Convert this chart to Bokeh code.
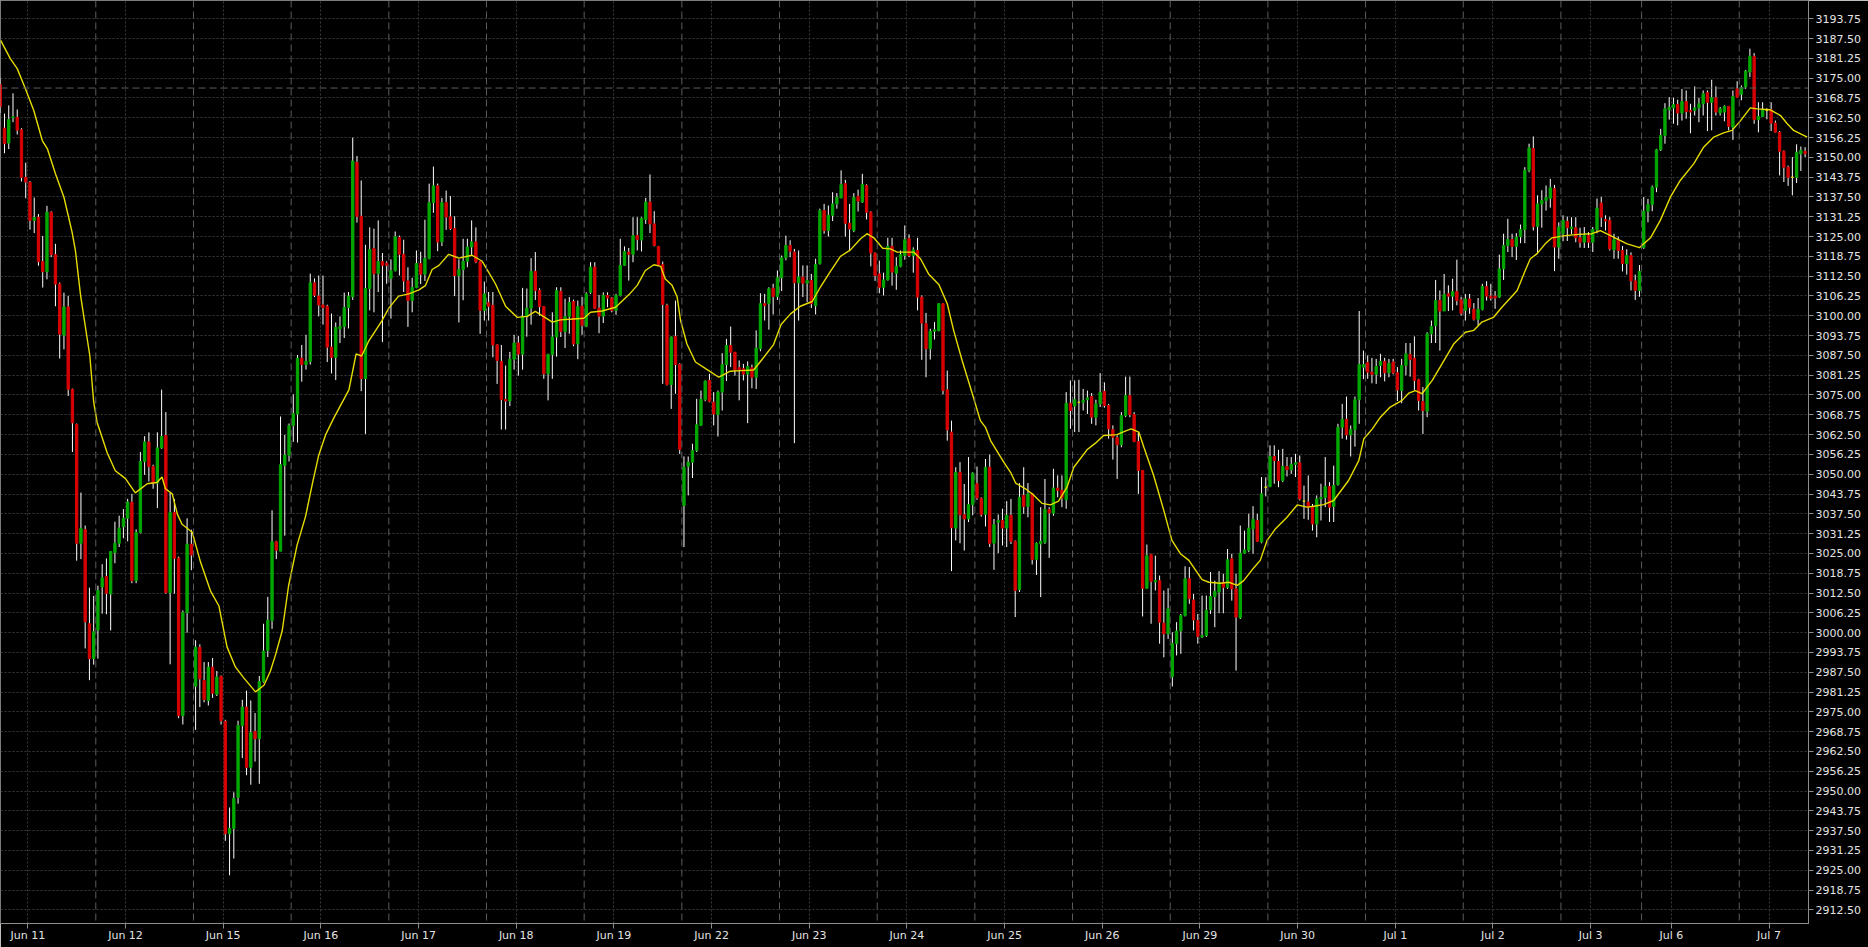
from bokeh.plotting import figure
from bokeh.models import Range1d, FixedTicker, Span, ColumnDataSource, NumeralTickFormatter
from bokeh.embed import file_html
from bokeh.resources import INLINE

# ---------------- data (hourly bars) ----------------
day_labels = ["Jun 11", "Jun 12", "Jun 15", "Jun 16", "Jun 17", "Jun 18", "Jun 19",
              "Jun 22", "Jun 23", "Jun 24", "Jun 25", "Jun 26", "Jun 29", "Jun 30",
              "Jul 1", "Jul 2", "Jul 3", "Jul 6", "Jul 7"]
bars_per_day = [23] * 16 + [19, 23, 16]

opens = [
3173.0,3159.2,3154.5,3162.5,3162.6,3158.7,3143.7,3142.1,3130.1,3131.1,
3117.1,3113.9,3132.7,3119.3,3110.0,3093.9,3102.8,3076.8,3065.7,3028.2,
3032.5,3002.8,2991.8,3000.8,3014.4,3017.7,3012.2,3025.3,3028.2,3033.4,
3036.1,3041.2,3016.4,3031.6,3054.0,3060.2,3052.4,3047.2,3058.3,3062.2,
3012.6,3037.9,3023.5,2973.8,3006.3,3027.9,2983.1,2995.4,2984.9,2978.6,
2989.1,2980.5,2986.2,2972.0,2936.5,2938.2,2948.0,2970.7,2976.5,2957.5,
2968.8,2966.5,2984.6,2994.4,3003.8,3028.7,3025.7,3052.8,3056.0,3065.4,
3069.0,3086.6,3084.6,3085.6,3110.4,3106.2,3103.4,3103.0,3090.1,3086.9,
3095.9,3096.6,3102.6,3106.0,3148.4,3131.4,3080.2,3108.6,3121.2,3113.3,
3117.1,3116.6,3111.8,3114.2,3124.7,3119.4,3111.0,3104.8,3108.9,3116.5,
3113.1,3118.1,3135.7,3141.0,3123.3,3135.7,3131.2,3127.5,3112.7,3114.6,
3117.2,3121.7,3123.3,3117.0,3101.7,3104.1,3103.3,3090.8,3085.6,3073.6,
3073.1,3086.3,3091.4,3087.9,3099.8,3102.4,3114.0,3108.0,3102.9,3081.7,
3087.8,3093.3,3107.7,3095.0,3099.8,3104.5,3091.1,3103.0,3096.7,3107.4,
3115.4,3102.4,3099.9,3106.4,3105.6,3101.7,3106.4,3115.9,3120.1,3119.4,
3125.3,3123.9,3130.4,3135.9,3129.0,3121.9,3116.1,3103.3,3078.3,3093.5,
3084.6,3040.1,3052.5,3053.8,3057.5,3065.4,3073.6,3079.6,3072.7,3068.8,
3075.9,3084.6,3090.6,3088.5,3083.6,3083.3,3081.6,3083.6,3080.6,3089.6,
3103.8,3103.8,3108.7,3106.1,3112.0,3118.3,3122.2,3120.1,3110.4,3112.2,
3110.3,3111.1,3103.2,3116.4,3133.2,3126.9,3131.7,3135.3,3137.2,3141.7,
3129.2,3126.9,3137.7,3135.9,3141.1,3132.7,3119.8,3113.2,3109.0,3111.3,
3121.9,3113.4,3115.6,3119.0,3124.3,3119.0,3120.6,3105.9,3097.5,3089.6,
3095.1,3095.3,3103.8,3076.6,3063.3,3033.0,3050.6,3037.2,3035.9,3040.4,
3047.0,3042.4,3037.3,3052.2,3028.2,3034.8,3035.4,3033.0,3037.0,3028.8,
3013.6,3043.3,3039.8,3043.8,3023.1,3028.0,3028.5,3038.8,3037.7,3045.6,
3044.9,3041.9,3072.4,3071.5,3072.7,3072.7,3073.5,3074.5,3068.0,3072.2,
3076.1,3071.7,3064.1,3061.5,3059.3,3068.5,3074.8,3068.8,3060.3,3051.2,
3014.0,3024.6,3016.0,3016.4,3003.0,2999.6,2986.1,2996.5,3000.5,3005.4,
3017.0,3010.3,3003.8,2998.6,2999.1,3007.2,3011.4,3012.8,3015.9,3014.3,
3023.3,3013.8,3004.7,3025.1,3026.0,3032.8,3035.4,3028.6,3045.9,3046.1,
3055.6,3054.0,3048.0,3052.4,3051.4,3053.1,3053.6,3041.5,3041.2,3039.6,
3034.3,3042.2,3042.7,3046.1,3039.8,3046.7,3064.8,3067.3,3062.4,3064.1,
3073.5,3083.8,3085.2,3082.2,3081.5,3084.3,3085.6,3082.0,3085.4,3082.0,
3076.4,3084.3,3087.8,3086.6,3079.8,3072.9,3069.9,3094.3,3096.9,3104.8,
3101.5,3106.9,3106.2,3107.6,3105.0,3101.7,3105.3,3102.1,3098.9,3102.0,
3109.2,3106.2,3106.2,3105.9,3114.8,3122.2,3124.1,3121.9,3125.0,3127.2,
3145.9,3152.8,3128.2,3135.3,3136.4,3137.1,3140.1,3121.7,3125.9,3129.8,
3127.5,3127.8,3124.6,3123.2,3125.3,3123.2,3127.2,3135.6,3130.4,3130.1,
3120.8,3124.0,3120.6,3116.5,3119.0,3111.0,3108.0,3121.5,3133.0,3135.1,
3140.6,3152.4,3156.9,3165.0,3165.6,3166.7,3164.0,3167.6,3164.8,3164.8,
3165.6,3166.9,3170.4,3167.4,3168.8,3164.0,3164.3,3166.1,3159.5,3171.6,
3169.9,3172.2,3176.9,3181.9,3161.9,3162.9,3164.8,3165.0,3160.8,3157.9,
3151.9,3146.9,3143.7,3143.7,3151.1,3151.9]

highs = [
3175.0,3163.8,3166.4,3170.2,3165.1,3159.2,3148.3,3142.5,3137.3,3132.1,
3125.2,3134.7,3133.0,3122.7,3110.5,3107.3,3106.3,3077.0,3066.0,3044.2,
3033.8,3014.2,3011.6,3014.8,3021.6,3023.4,3025.6,3035.0,3036.9,3039.0,
3042.2,3043.8,3032.6,3057.0,3062.0,3063.2,3053.0,3063.2,3076.7,3069.6,
3044.1,3042.2,3024.0,3007.0,3036.1,3032.5,2997.6,2996.3,2990.7,2990.7,
2992.0,2987.9,2986.5,2972.5,2944.8,2949.6,2972.2,2978.8,2981.7,2978.6,
2974.6,2986.3,3002.8,3011.3,3038.6,3029.0,3068.2,3062.4,3066.0,3075.2,
3087.6,3090.8,3094.0,3113.3,3111.8,3112.7,3112.7,3103.5,3100.7,3097.9,
3099.8,3107.3,3107.5,3156.2,3150.4,3142.7,3122.4,3127.9,3127.5,3130.1,
3119.8,3117.2,3117.8,3126.6,3125.3,3124.0,3115.3,3112.0,3120.6,3120.2,
3130.3,3141.7,3147.1,3141.7,3137.2,3139.5,3137.8,3131.4,3117.8,3124.3,
3124.3,3130.1,3127.9,3117.2,3110.8,3107.5,3107.5,3091.0,3090.8,3084.3,
3088.6,3094.0,3093.6,3108.8,3108.6,3118.2,3120.1,3108.7,3103.0,3088.0,
3101.1,3109.0,3109.0,3105.4,3105.9,3105.1,3104.8,3106.0,3107.4,3116.9,
3116.9,3106.6,3107.4,3107.4,3105.9,3106.9,3124.3,3121.9,3121.4,3131.1,
3131.1,3131.1,3137.2,3144.6,3133.0,3122.0,3117.1,3103.8,3093.5,3104.8,
3085.0,3055.6,3055.6,3059.6,3073.8,3076.4,3079.6,3081.7,3075.9,3076.4,
3088.2,3092.7,3096.6,3088.5,3085.9,3084.8,3085.6,3084.6,3095.4,3107.1,
3106.9,3109.0,3110.1,3114.3,3119.0,3125.3,3123.8,3121.1,3120.6,3115.9,
3115.9,3113.2,3118.0,3133.8,3135.3,3134.8,3139.0,3138.7,3145.9,3142.9,
3135.3,3138.7,3139.8,3144.8,3141.5,3133.0,3120.0,3117.4,3113.6,3124.6,
3124.6,3118.5,3120.6,3128.5,3125.7,3121.6,3124.6,3106.4,3100.9,3095.9,
3098.0,3104.0,3104.0,3082.7,3066.9,3052.2,3053.8,3046.9,3055.4,3050.6,
3052.4,3042.7,3054.8,3056.2,3035.9,3037.3,3039.1,3041.5,3042.2,3029.1,
3047.2,3052.2,3047.2,3044.0,3028.5,3039.6,3048.5,3039.6,3051.7,3049.6,
3049.6,3075.9,3079.6,3079.6,3079.8,3076.9,3076.4,3075.6,3073.5,3081.9,
3079.0,3072.2,3065.4,3062.2,3069.6,3080.8,3080.8,3069.6,3063.3,3051.2,
3027.8,3024.9,3024.3,3018.0,3013.3,3014.0,3000.1,3003.3,3005.9,3020.9,
3020.7,3012.2,3005.9,3011.7,3011.7,3019.1,3016.4,3019.4,3018.6,3026.4,
3024.9,3018.6,3033.8,3032.2,3037.5,3039.9,3037.5,3049.1,3049.0,3059.1,
3059.1,3057.7,3058.0,3055.4,3055.4,3056.4,3055.9,3046.4,3049.6,3040.6,
3043.3,3047.0,3055.4,3047.5,3052.7,3065.9,3072.2,3074.5,3065.4,3074.5,
3101.5,3089.0,3087.5,3086.7,3086.4,3088.0,3086.7,3086.4,3086.4,3083.8,
3086.4,3091.4,3091.4,3093.5,3080.1,3077.5,3094.8,3098.5,3111.3,3108.0,
3113.2,3109.6,3111.7,3117.7,3106.0,3106.9,3106.9,3104.0,3105.6,3110.1,
3110.9,3110.1,3107.8,3119.3,3125.9,3130.6,3125.9,3126.1,3128.8,3146.9,
3154.3,3156.6,3138.0,3139.6,3141.1,3143.2,3141.3,3129.5,3131.7,3131.3,
3131.1,3131.1,3127.8,3128.0,3126.4,3128.0,3137.0,3137.5,3131.7,3131.1,
3125.9,3125.0,3122.0,3121.0,3120.0,3113.0,3116.0,3137.5,3136.9,3141.1,
3152.7,3159.0,3167.1,3169.0,3168.8,3168.2,3171.6,3171.1,3166.9,3172.4,
3168.8,3171.1,3171.1,3174.5,3172.4,3165.9,3166.4,3166.1,3171.1,3174.0,
3172.7,3177.6,3184.3,3182.9,3167.4,3167.4,3165.5,3167.4,3161.6,3158.3,
3152.2,3147.4,3150.1,3154.1,3153.4,3153.2]

lows = [
3164.0,3151.3,3152.6,3161.1,3157.2,3142.4,3137.1,3127.2,3126.1,3115.8,
3108.9,3111.5,3118.5,3103.0,3086.5,3089.4,3074.7,3057.0,3022.7,3023.2,
2995.0,2985.0,2989.9,2991.8,3006.0,3005.8,3000.7,3021.9,3027.0,3029.8,
3028.8,3015.6,3015.6,3031.3,3049.8,3047.7,3045.4,3039.3,3058.0,3012.3,
2990.0,3012.3,2973.0,2971.0,3000.0,3019.7,2969.3,2976.5,2978.0,2977.0,
2979.4,2980.0,2971.0,2934.3,2923.4,2928.7,2946.0,2960.4,2955.0,2952.0,
2959.3,2952.3,2984.2,2992.3,3001.2,3023.2,3025.7,3030.6,3054.0,3060.2,
3060.0,3079.2,3083.0,3084.6,3105.9,3099.8,3097.2,3085.4,3081.8,3079.7,
3091.4,3093.0,3096.0,3105.0,3129.4,3076.2,3062.7,3101.7,3101.1,3107.5,
3091.7,3110.1,3099.1,3114.0,3112.7,3107.5,3096.5,3101.1,3108.7,3110.0,
3111.0,3117.8,3132.5,3120.4,3122.0,3127.1,3127.1,3106.2,3097.9,3104.9,
3115.3,3119.0,3116.6,3094.3,3098.5,3098.5,3086.9,3078.5,3064.1,3064.1,
3071.5,3083.0,3081.1,3083.0,3093.4,3097.2,3105.0,3100.0,3080.1,3073.3,
3080.1,3087.1,3093.3,3089.8,3094.3,3090.4,3086.3,3094.0,3096.4,3106.9,
3102.2,3094.5,3097.7,3102.7,3101.1,3100.3,3106.1,3115.7,3111.1,3116.9,
3120.6,3120.3,3129.0,3126.1,3121.9,3116.0,3078.5,3078.0,3070.6,3075.4,
3056.4,3027.0,3043.3,3048.8,3057.0,3065.4,3073.0,3072.7,3065.4,3061.9,
3070.1,3079.4,3083.8,3081.1,3073.3,3079.6,3066.1,3077.1,3076.9,3088.8,
3098.5,3095.6,3100.4,3105.0,3107.8,3117.5,3118.5,3059.8,3098.5,3105.9,
3104.3,3102.4,3100.4,3116.2,3125.9,3125.0,3129.9,3133.8,3137.1,3125.0,
3120.4,3126.4,3132.9,3135.6,3130.4,3115.6,3111.0,3107.1,3106.4,3111.1,
3109.5,3108.2,3115.3,3117.7,3118.5,3113.6,3101.7,3086.1,3080.6,3086.2,
3092.5,3095.1,3075.2,3060.6,3019.4,3029.1,3028.2,3025.9,3034.9,3037.0,
3041.9,3036.6,3033.5,3027.0,3019.8,3025.1,3027.5,3027.0,3028.0,3004.9,
3012.8,3037.5,3036.4,3021.5,3018.2,3011.2,3028.0,3023.6,3036.9,3042.7,
3039.6,3039.1,3064.3,3063.3,3063.3,3070.1,3069.0,3065.9,3065.4,3071.2,
3071.0,3061.2,3054.6,3048.5,3058.5,3068.0,3068.0,3060.1,3043.8,3005.1,
3013.8,3002.8,3013.3,2996.5,2992.2,2998.0,2983.0,2992.8,2993.3,3005.1,
3009.1,3000.7,2996.5,2998.3,2998.6,3005.9,3001.7,3006.1,3006.1,3013.8,
3010.1,2988.0,3004.3,3024.9,3025.4,3024.9,3028.6,3028.2,3043.0,3045.9,
3047.0,3045.9,3047.5,3049.3,3050.1,3049.1,3041.7,3035.9,3035.6,3032.2,
3030.1,3035.4,3039.6,3034.9,3034.9,3046.4,3061.2,3060.9,3055.6,3058.7,
3065.9,3080.0,3080.1,3078.7,3078.5,3080.6,3079.3,3080.6,3081.5,3073.1,
3072.4,3081.2,3080.8,3076.6,3070.1,3062.7,3068.0,3091.4,3091.4,3089.0,
3101.5,3101.5,3101.7,3103.3,3100.1,3098.5,3100.6,3098.5,3096.9,3101.7,
3104.8,3104.8,3102.2,3105.6,3111.3,3120.1,3118.5,3117.6,3122.9,3122.9,
3145.3,3126.9,3119.6,3127.8,3133.2,3134.1,3114.1,3118.0,3123.5,3123.6,
3125.7,3123.2,3121.5,3121.4,3121.4,3120.1,3126.0,3128.0,3126.9,3120.6,
3118.0,3118.0,3114.0,3113.0,3108.0,3105.0,3106.0,3121.1,3129.5,3133.0,
3139.0,3152.0,3154.3,3161.9,3160.6,3160.1,3161.6,3162.2,3157.6,3163.2,
3161.1,3163.2,3158.3,3158.5,3163.2,3163.2,3161.4,3158.5,3155.5,3168.8,
3168.0,3171.6,3175.3,3160.6,3157.9,3162.7,3162.0,3158.3,3157.9,3144.3,
3142.2,3141.0,3138.0,3141.9,3145.7,3150.1]

closes = [
3166.0,3154.3,3161.9,3162.8,3158.6,3143.7,3142.2,3130.1,3131.0,3117.1,
3113.9,3132.7,3119.3,3110.0,3094.2,3102.8,3076.8,3066.2,3028.2,3032.9,
3003.4,2991.8,3000.3,3013.3,3017.3,3012.4,3025.6,3028.2,3033.0,3036.1,
3041.2,3016.4,3031.6,3054.0,3060.2,3052.4,3047.2,3058.3,3061.9,3012.6,
3037.9,3023.5,2973.8,3006.3,3027.9,3024.5,2995.4,2985.4,2978.9,2989.1,
2980.9,2986.0,2972.2,2936.5,2938.2,2947.7,2970.7,2976.5,2957.5,2968.4,
2966.5,2984.6,2994.2,3003.9,3028.7,3026.0,3053.0,3056.0,3065.3,3069.1,
3086.6,3084.6,3085.6,3110.4,3106.5,3103.4,3102.6,3090.1,3086.9,3096.3,
3096.6,3102.6,3106.2,3148.8,3131.4,3080.2,3108.6,3120.9,3113.3,3117.1,
3115.9,3115.9,3114.2,3124.9,3119.4,3111.0,3104.8,3108.9,3116.5,3113.1,
3118.1,3135.7,3141.0,3123.3,3135.7,3131.2,3127.5,3112.7,3114.6,3117.2,
3121.7,3123.3,3117.0,3101.7,3106.9,3103.0,3090.8,3085.9,3073.6,3073.1,
3086.3,3091.4,3087.9,3099.8,3102.4,3114.0,3108.0,3102.9,3081.7,3087.8,
3093.3,3108.0,3095.0,3099.8,3104.2,3091.1,3102.9,3097.0,3106.9,3115.4,
3102.4,3099.9,3106.4,3105.6,3101.7,3106.4,3115.9,3120.3,3119.4,3125.3,
3124.1,3130.8,3135.9,3129.0,3122.2,3116.1,3103.6,3078.3,3093.3,3084.6,
3057.8,3052.2,3053.8,3057.5,3065.6,3073.6,3079.4,3073.0,3069.0,3075.9,
3084.6,3090.6,3088.5,3082.9,3083.0,3081.6,3084.0,3080.6,3089.8,3103.8,
3103.2,3108.5,3106.1,3112.0,3118.3,3122.2,3120.4,3110.4,3112.2,3110.3,
3111.1,3103.8,3116.2,3133.2,3126.9,3131.7,3135.3,3137.4,3141.4,3129.2,
3127.4,3137.4,3136.2,3141.4,3132.7,3119.8,3112.7,3109.0,3111.3,3121.9,
3113.8,3115.6,3119.3,3124.0,3119.0,3120.8,3105.9,3097.7,3089.6,3095.1,
3095.6,3103.8,3076.4,3064.0,3033.1,3050.6,3037.2,3035.9,3040.4,3050.3,
3042.5,3037.3,3052.2,3028.2,3034.1,3035.4,3033.0,3037.0,3028.8,3013.3,
3042.7,3039.8,3043.8,3023.1,3028.2,3028.8,3038.9,3037.8,3045.6,3044.9,
3042.5,3072.4,3070.1,3073.5,3072.7,3073.3,3074.1,3068.0,3072.2,3075.8,
3071.7,3064.3,3061.7,3059.3,3068.5,3074.8,3068.8,3060.3,3051.2,3014.0,
3024.3,3016.2,3016.4,3003.3,2999.6,3007.5,2996.5,3000.5,3005.4,3017.0,
3010.7,3004.0,2998.8,2999.1,3007.0,3011.4,3013.0,3015.9,3014.3,3023.0,
3013.8,3004.9,3025.1,3026.1,3033.0,3035.7,3028.8,3043.8,3045.9,3055.6,
3054.3,3048.0,3052.4,3051.4,3053.1,3053.6,3042.2,3041.5,3039.6,3034.3,
3042.2,3042.7,3046.1,3039.6,3046.4,3064.8,3067.3,3062.4,3064.1,3073.5,
3084.6,3084.6,3082.2,3081.5,3084.0,3085.6,3082.0,3085.0,3082.0,3076.6,
3084.3,3088.0,3086.2,3079.6,3073.3,3070.1,3094.3,3096.6,3104.8,3101.5,
3106.7,3106.2,3107.6,3104.8,3100.8,3105.3,3102.7,3098.9,3102.0,3109.2,
3106.2,3105.6,3105.6,3114.8,3122.2,3124.1,3121.9,3124.8,3127.2,3145.9,
3153.0,3128.2,3135.3,3136.4,3137.3,3140.4,3121.7,3128.0,3130.1,3127.8,
3128.0,3124.6,3123.2,3125.3,3123.2,3127.2,3134.0,3131.1,3129.9,3121.1,
3124.0,3120.6,3116.5,3119.0,3111.0,3108.0,3114.0,3133.0,3135.1,3140.6,
3152.4,3156.9,3165.3,3165.8,3166.7,3164.0,3167.6,3164.5,3164.3,3165.6,
3166.9,3170.1,3167.4,3168.8,3164.3,3165.3,3166.1,3159.8,3169.2,3169.0,
3172.0,3177.2,3181.9,3161.9,3162.9,3165.0,3164.8,3160.8,3157.9,3151.9,
3146.9,3143.7,3143.7,3151.6,3152.2,3151.1]

# moving average line (bar position, value)
ma_x = [0.1,2.4,4.0,5.9,7.9,9.9,11.1,13.0,15.0,16.9,
17.7,18.9,21.1,22.0,22.8,25.2,27.1,29.5,31.8,34.6,
36.9,38.1,38.9,40.5,41.7,42.8,45.2,47.2,49.5,51.5,
53.4,55.4,57.3,60.1,62.1,63.6,64.8,66.4,67.9,69.9,
71.9,73.5,75.0,76.6,78.5,82.1,83.8,85.1,86.8,89.9,
91.5,93.8,96.2,98.6,100.1,101.7,103.3,105.6,108.0,111.1,
113.5,116.6,119.0,121.7,124.1,126.0,130.0,131.9,135.0,137.4,
139.0,141.7,144.9,148.0,150.0,151.9,153.9,155.5,156.6,158.2,
159.4,160.2,161.7,163.7,166.1,169.2,171.9,174.3,177.4,179.8,
182.1,183.9,186.1,188.4,191.2,193.1,195.1,197.8,200.2,202.6,
204.1,205.7,207.8,209.6,211.2,215.1,216.7,218.6,221.0,223.0,
224.5,226.5,228.9,230.8,232.0,233.2,236.3,237.9,239.1,241.4,
243.0,245.3,247.3,249.2,251.2,252.8,255.9,257.9,259.8,263.0,
264.9,266.3,268.1,269.3,271.6,274.0,275.9,277.9,279.9,283.0,
284.6,287.3,289.3,291.3,292.8,295.2,296.7,298.3,300.3,303.0,
305.4,307.7,309.3,311.6,314.0,317.5,319.9,321.1,323.1,325.0,
327.3,330.1,331.7,333.2,334.8,337.2,339.5,342.3,345.0,347.0,
348.9,351.7,353.6,357.2,359.1,360.3,361.9,363.8,365.4,368.5,
371.7,374.8,376.8,380.7,383.1,386.0,388.6,390.9,393.3,395.6,
398.8,401.1,403.5,405.8,407.8,409.8,412.1,413.7,416.8,419.2,
420.8,422.3,425.5]
ma_y = [3186.9,3181.1,3178.0,3171.7,3164.8,3155.3,3152.7,3144.8,3137.4,3126.5,
3120.6,3106.6,3087.3,3072.8,3066.4,3056.7,3051.1,3048.6,3044.1,3047.0,
3047.4,3049.1,3045.4,3043.8,3037.4,3034.2,3031.7,3022.1,3013.2,3008.4,
2995.5,2989.1,2985.8,2981.3,2983.4,2987.8,2992.9,3000.6,3014.8,3027.6,
3036.7,3047.0,3056.0,3062.4,3067.6,3076.6,3088.0,3087.3,3092.1,3098.5,
3102.4,3106.2,3106.9,3108.2,3109.5,3114.6,3115.9,3119.4,3118.2,3119.1,
3117.2,3110.1,3103.0,3099.5,3099.8,3101.4,3098.0,3098.7,3099.0,3099.2,
3101.1,3101.5,3102.7,3106.6,3109.6,3114.3,3116.1,3115.6,3111.6,3109.6,
3105.9,3098.5,3091.1,3085.4,3083.3,3080.6,3082.5,3082.7,3082.9,3086.9,
3090.9,3097.3,3100.6,3103.0,3104.5,3109.0,3113.2,3118.7,3120.8,3124.3,
3125.9,3124.6,3121.3,3121.1,3120.1,3120.1,3118.0,3113.2,3109.9,3103.8,
3095.4,3085.9,3075.4,3066.9,3064.8,3060.6,3053.8,3050.6,3047.2,3045.4,
3043.8,3040.8,3040.3,3041.5,3045.9,3052.2,3057.7,3059.8,3062.2,3062.5,
3063.6,3064.3,3063.3,3058.5,3049.6,3038.5,3029.1,3024.9,3022.8,3016.7,
3015.9,3015.6,3015.9,3014.9,3016.4,3020.5,3022.8,3029.1,3032.8,3036.4,
3040.3,3039.6,3039.9,3040.4,3041.7,3048.0,3054.3,3061.2,3064.3,3068.0,
3071.2,3073.3,3075.6,3076.4,3075.4,3079.6,3084.8,3091.2,3094.8,3095.4,
3098.0,3099.6,3102.7,3108.0,3114.3,3118.0,3119.6,3122.7,3124.6,3125.3,
3125.7,3125.9,3126.9,3124.3,3122.7,3121.5,3124.6,3130.1,3137.5,3142.7,
3148.0,3153.2,3156.4,3157.7,3158.5,3161.6,3165.6,3165.3,3165.0,3163.2,
3160.6,3158.5,3156.4]

marker_level = 3171.875          # dashed horizontal line
y_tick_step = 6.25
y_tick_first, y_tick_last = 2912.5, 3193.75

# ---------------- derived layout helpers ----------------
day_start = []
s = 0
for nb in bars_per_day:
    day_start.append(s)
    s += nb
tick_pos = [d + 6.5 for d in day_start]
sep_pos = [d - 0.5 for d in day_start]
y_ticks = [y_tick_first + y_tick_step * k
           for k in range(int(round((y_tick_last - y_tick_first) / y_tick_step)) + 1)]

UP, DOWN, FLAT = "#00a800", "#d80000", "#e8e000"
colors = [UP if c > o else (DOWN if c < o else FLAT) for o, c in zip(opens, closes)]
src = ColumnDataSource(dict(
    x=list(range(len(opens))), o=opens, h=highs, l=lows, c=closes,
    top=[max(o, c) for o, c in zip(opens, closes)],
    bottom=[min(o, c) for o, c in zip(opens, closes)],
    color=colors))

FONT = "DejaVu Sans"
p = figure(width=1868, height=947,
           x_range=Range1d(0.06, 425.8), y_range=Range1d(2908.2, 3199.5),
           y_axis_location="right", output_backend="svg", toolbar_location=None,
           background_fill_color="#000000", border_fill_color="#000000",
           min_border_left=0, min_border_top=0, min_border_right=60, min_border_bottom=24)
p.outline_line_color = "#7c7c7c"
p.outline_line_width = 1

# grids
p.xaxis.ticker = FixedTicker(ticks=tick_pos)
p.xgrid.ticker = FixedTicker(ticks=tick_pos)
p.yaxis.ticker = FixedTicker(ticks=y_ticks)
p.ygrid.ticker = FixedTicker(ticks=y_ticks)
for g in (p.xgrid, p.ygrid):
    g.grid_line_color = "#3a3a3a"
    g.grid_line_dash = "2 2"
    g.grid_line_width = 1

# axes
p.xaxis.major_label_overrides = {t: lbl for t, lbl in zip(tick_pos, day_labels)}
p.yaxis.formatter = NumeralTickFormatter(format="0.00")
for ax in (p.xaxis, p.yaxis):
    ax.axis_line_color = "#8c8c8c"
    ax.major_tick_line_color = "#8c8c8c"
    ax.major_tick_out = 5
    ax.major_tick_in = 0
    ax.minor_tick_line_color = None
    ax.major_label_text_color = "#e4e4e4"
    ax.major_label_text_font = FONT
    ax.major_label_text_font_size = "11px"
p.xaxis.major_label_standoff = 0
p.yaxis.major_label_standoff = 2

# day separators and horizontal marker
for sp in sep_pos:
    p.add_layout(Span(location=sp, dimension="height", line_color="#5c5c5c",
                      line_dash="7 4", line_width=1))
p.add_layout(Span(location=marker_level, dimension="width", line_color="#5c5c5c",
                  line_dash="7 4", line_width=1))

# candles
p.segment(x0="x", y0="l", x1="x", y1="h", source=src, line_color="#ffffff", line_width=1)
p.vbar(x="x", width=0.55, top="top", bottom="bottom", source=src,
       fill_color="color", line_color="color", line_width=1)

# moving average
p.line(ma_x, ma_y, line_color="#e6dc00", line_width=1.4)

open("out.html", "w").write(file_html(p, INLINE))
